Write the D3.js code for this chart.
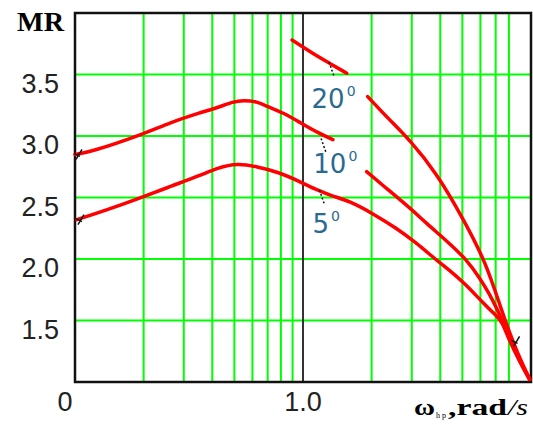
<!DOCTYPE html>
<html>
  <head>
    <title>MR vs frequency</title>
    <script src="https://cdn.jsdelivr.net/npm/d3@7"></script>
    <style>
      body { margin: 0; background: #fff; }
      .grid { stroke: #00ff00; stroke-width: 2; }
      .curve { fill: none; stroke: #ff0000; stroke-width: 3.5; stroke-linejoin: round; stroke-linecap: round; }
      .tick-label { font-family: "Liberation Sans", Arial, sans-serif; font-size: 27px; fill: #222; }
      .curve-label { font-family: "DejaVu Sans", sans-serif; fill: #2a6a8f; }
    </style>
  </head>
  <body>
    <svg id="chart" width="533" height="425"></svg>
    <script>
      // x on log scale (omega), y = MR
      const yTicks = [1.5, 2.0, 2.5, 3.0, 3.5];
      const xMinorTicks = [0.2, 0.3, 0.4, 0.5, 0.6, 0.7, 0.8, 0.9, 2, 3, 4, 5, 6, 7, 8];
      const xTickLabels = [{ v: 0.1, t: "0" }, { v: 1, t: "1.0" }];

      // 5 degrees
      const mr5 = [
        [0.102, 2.32], [0.134, 2.39], [0.196, 2.50], [0.262, 2.59], [0.355, 2.68],
        [0.421, 2.74], [0.515, 2.78], [0.630, 2.75], [0.770, 2.71], [0.970, 2.63],
        [1.151, 2.56], [1.352, 2.51], [1.604, 2.47], [2.022, 2.37], [2.573, 2.25],
        [3.147, 2.13], [3.849, 1.99], [4.385, 1.91], [5.201, 1.79], [6.110, 1.65],
        [7.036, 1.54], [7.467, 1.49], [8.017, 1.34], [8.867, 1.18], [9.80, 1.03]
      ];
      // 10 degrees, two pieces (gap for the label)
      const mr10a = [
        [0.100, 2.85], [0.117, 2.87], [0.196, 3.01], [0.262, 3.11], [0.355, 3.19],
        [0.421, 3.23], [0.495, 3.28], [0.547, 3.29], [0.630, 3.28], [0.696, 3.24],
        [0.818, 3.19], [0.970, 3.11], [1.151, 3.03], [1.352, 2.97]
      ];
      const mr10b = [
        [1.902, 2.71], [2.235, 2.60], [2.844, 2.44], [3.479, 2.29], [4.254, 2.15],
        [5.254, 1.99], [5.930, 1.85], [6.555, 1.72], [7.109, 1.59], [7.467, 1.50],
        [8.10, 1.33], [8.90, 1.17], [9.85, 1.02]
      ];
      // 20 degrees, two pieces
      const mr20a = [[0.895, 3.78], [1.106, 3.67], [1.312, 3.59], [1.556, 3.51]];
      const mr20b = [
        [1.922, 3.32], [2.399, 3.13], [2.931, 2.97], [3.849, 2.70], [4.997, 2.34],
        [6.357, 1.97], [7.393, 1.59], [8.40, 1.31], [9.20, 1.14], [9.90, 1.02]
      ];

      // label text, where it sits, and the curve point its leader points to
      const curveLabels = [
        { text: "20", at: [1.09, 3.23], lead: [1.30, 3.60] },
        { text: "10", at: [1.11, 2.70], lead: [1.20, 2.98] },
        { text: "5", at: [1.10, 2.21], lead: [1.18, 2.56] }
      ];

      const svg = d3.select("#chart");
      const pLeft = 75, pRight = 531, pTop = 13, pBottom = 382;

      const x = d3.scaleLog().domain([0.1, 10]).range([pLeft, pRight]);
      const y = d3.scaleLinear().domain([1, 4]).range([pBottom, pTop]);

      // grid
      svg.append("g").selectAll("line").data(yTicks).join("line")
        .attr("class", "grid")
        .attr("x1", pLeft).attr("x2", pRight)
        .attr("y1", d => y(d)).attr("y2", d => y(d));

      svg.append("g").selectAll("line").data(xMinorTicks).join("line")
        .attr("class", "grid")
        .attr("x1", d => x(d)).attr("x2", d => x(d))
        .attr("y1", pTop).attr("y2", pBottom);

      // the 1.0 line is dark
      svg.append("line")
        .attr("x1", x(1)).attr("x2", x(1))
        .attr("y1", pTop).attr("y2", pBottom)
        .attr("stroke", "#333").attr("stroke-width", 2);

      // frame
      svg.append("rect")
        .attr("x", pLeft).attr("y", pTop)
        .attr("width", pRight - pLeft).attr("height", pBottom - pTop)
        .attr("fill", "none").attr("stroke", "#111").attr("stroke-width", 2.5);

      // curves
      const line = d3.line()
        .x(d => x(d[0]))
        .y(d => y(d[1]))
        .curve(d3.curveBasis);

      [mr5, mr10a, mr10b, mr20a, mr20b].forEach(s => {
        svg.append("path").datum(s).attr("class", "curve").attr("d", line);
      });

      // little trace markers at curve ends
      const markers = [mr5[0], mr10a[0], [8.3, 1.33]];
      svg.append("g").selectAll("path").data(markers).join("path")
        .attr("d", d => {
          const px = x(d[0]) + 4, py = y(d[1]);
          return `M${px - 3},${py + 5} L${px + 3},${py - 5} M${px - 5},${py - 1} L${px + 1},${py + 2}`;
        })
        .attr("stroke", "#111").attr("stroke-width", 1.5).attr("fill", "none");

      // leaders
      svg.append("g").selectAll("line").data(curveLabels).join("line")
        .attr("x1", d => x(d.lead[0])).attr("y1", d => y(d.lead[1]))
        .attr("x2", d => x(d.lead[0]) + 5).attr("y2", d => y(d.lead[1]) + 14)
        .attr("stroke", "#111").attr("stroke-width", 1.5)
        .attr("stroke-dasharray", "2,2");

      // curve labels
      const lab = svg.append("g").selectAll("g").data(curveLabels).join("g");
      lab.append("text")
        .attr("class", "curve-label")
        .attr("x", d => x(d.at[0])).attr("y", d => y(d.at[1]))
        .attr("font-size", 26)
        .text(d => d.text)
        .each(function (d) { d.w = this.getComputedTextLength(); });
      lab.append("text")
        .attr("class", "curve-label")
        .attr("x", d => x(d.at[0]) + d.w + 2).attr("y", d => y(d.at[1]) - 12)
        .attr("font-size", 14)
        .text("0");

      // y tick labels
      svg.append("g").selectAll("text").data(yTicks).join("text")
        .attr("class", "tick-label")
        .attr("x", 59).attr("y", d => y(d) + 18)
        .attr("text-anchor", "end")
        .text(d => d.toFixed(1));

      // x tick labels
      svg.append("g").selectAll("text").data(xTickLabels).join("text")
        .attr("class", "tick-label")
        .attr("x", d => d.v === 0.1 ? x(d.v) - 10 : x(d.v))
        .attr("y", 411)
        .attr("text-anchor", "middle")
        .text(d => d.t);

      // axis titles
      svg.append("text")
        .attr("x", 17).attr("y", 31)
        .attr("font-family", "Liberation Serif, serif")
        .attr("font-weight", "bold").attr("font-size", 27)
        .attr("textLength", 47).attr("lengthAdjust", "spacingAndGlyphs")
        .text("MR");

      const serif = "Liberation Serif, serif";
      svg.append("text").attr("x", 414).attr("y", 415)
        .attr("font-family", serif).attr("font-weight", "bold").attr("font-size", 24)
        .attr("textLength", 21).attr("lengthAdjust", "spacingAndGlyphs")
        .text("ω");
      svg.append("text").attr("x", 436).attr("y", 418)
        .attr("font-family", serif).attr("font-size", 9)
        .attr("textLength", 10).attr("lengthAdjust", "spacingAndGlyphs")
        .text("h p");
      svg.append("text").attr("x", 448).attr("y", 415)
        .attr("font-family", serif).attr("font-weight", "bold").attr("font-size", 24)
        .attr("textLength", 59).attr("lengthAdjust", "spacingAndGlyphs")
        .text(",rad");
      svg.append("text").attr("x", 508).attr("y", 415)
        .attr("font-family", serif).attr("font-style", "italic").attr("font-size", 24)
        .attr("textLength", 20).attr("lengthAdjust", "spacingAndGlyphs")
        .text("/s");
    </script>
  </body>
</html>
